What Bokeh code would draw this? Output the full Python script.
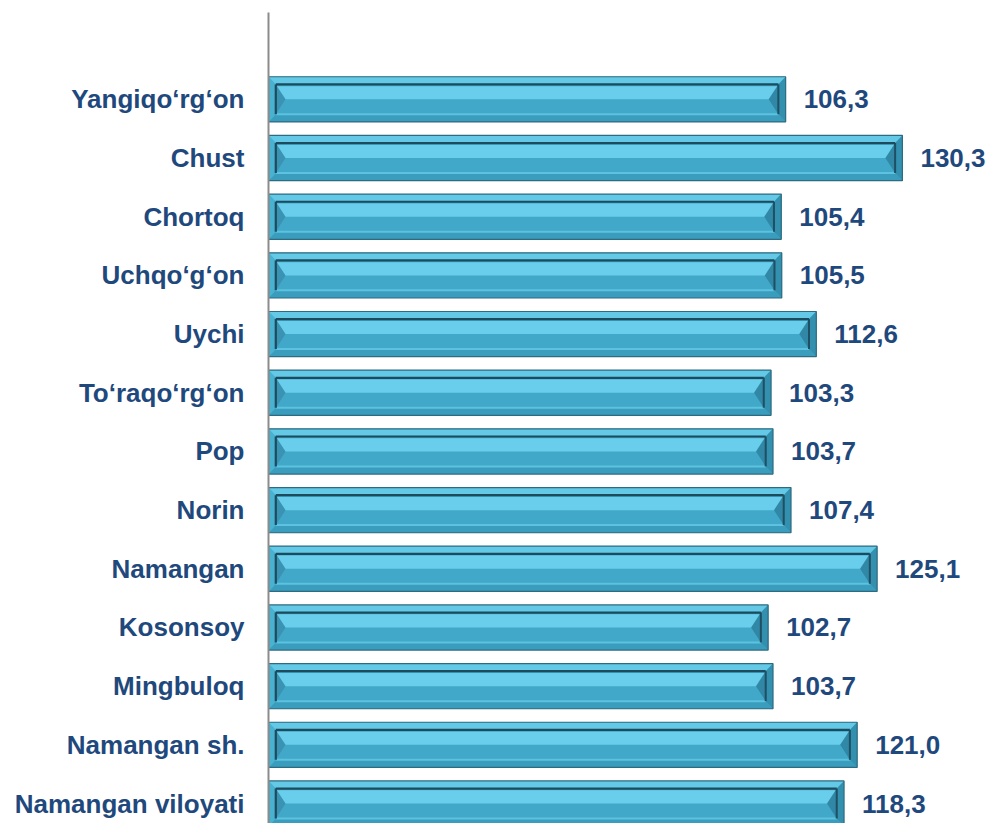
from bokeh.plotting import figure
from bokeh.models import ColumnDataSource, FixedTicker, Range1d
from bokeh.core.properties import value
from bokeh.embed import file_html
from bokeh.resources import INLINE

categories = ["Namangan viloyati", "Namangan sh.", "Mingbuloq", "Kosonsoy", "Namangan",
              "Norin", "Pop", "To\u2018raqo\u2018rg\u2018on", "Uychi", "Uchqo\u2018g\u2018on",
              "Chortoq", "Chust", "Yangiqo\u2018rg\u2018on"]
values = [118.3, 121.0, 103.7, 102.7, 125.1, 107.4, 103.7, 103.3, 112.6, 105.5, 105.4, 130.3, 106.3]

ys = list(range(len(categories)))
labels = [f"{v:.1f}".replace(".", ",") for v in values]

H_OUT = 0.385
H_IN = 0.255
D = 1.5

src = ColumnDataSource(dict(
    y=ys, v=values, lab=labels,
    ot=[y + H_OUT for y in ys], ob=[y - H_OUT for y in ys],
    it=[y + H_IN for y in ys], ib=[y - H_IN for y in ys],
    il=[D] * len(ys), ir=[v - D for v in values],
    ht=[y + H_IN - 0.03 for y in ys], hb=[y + 0.0 for y in ys],
))

p = figure(width=989, height=823, output_backend="svg", toolbar_location=None,
           x_range=Range1d(0, 148.2), y_range=Range1d(-0.34, 13.48),
           min_border_left=268, min_border_right=0, min_border_top=12, min_border_bottom=0)
p.outline_line_color = None
p.xgrid.visible = False
p.ygrid.visible = False
p.xaxis.visible = False

# outer frame
p.quad(left=0, right="v", top="ot", bottom="ob", source=src,
       fill_color="#47B3D3", line_color=None)

top_xs, top_ys, bot_xs, bot_ys, lf_xs, lf_ys, rt_xs, rt_ys = [], [], [], [], [], [], [], []
tri_xs, tri_ys, rtri_xs, rtri_ys = [], [], [], []
for y, v in zip(ys, values):
    top_xs.append([0, v, v - D, D]); top_ys.append([y + H_OUT, y + H_OUT, y + H_IN, y + H_IN])
    bot_xs.append([0, v, v - D, D]); bot_ys.append([y - H_OUT, y - H_OUT, y - H_IN, y - H_IN])
    lf_xs.append([0, D, D, 0]); lf_ys.append([y + H_OUT, y + H_IN, y - H_IN, y - H_OUT])
    rt_xs.append([v, v - D, v - D, v]); rt_ys.append([y + H_OUT, y + H_IN, y - H_IN, y - H_OUT])
    tri_xs.append([D, D + 2.0, D]); tri_ys.append([y + H_IN, y, y - H_IN])
    rtri_xs.append([v - D, v - D - 2.0, v - D]); rtri_ys.append([y + H_IN, y, y - H_IN])

p.patches(top_xs, top_ys, fill_color="#63C9E6", line_color=None)
p.patches(bot_xs, bot_ys, fill_color="#3A9DBD", line_color=None)
p.patches(lf_xs, lf_ys, fill_color="#4AB2D1", line_color=None)
p.patches(rt_xs, rt_ys, fill_color="#3390AE", line_color=None)
p.quad(left=0, right="v", top="ot", bottom="ob", source=src,
       fill_color=None, line_color="#2D6B80", line_width=1.2)

# inner face
p.quad(left="il", right="ir", top="it", bottom="ib", source=src,
       fill_color="#41A8C9", line_color=None)
p.quad(left="il", right="ir", top="ht", bottom="hb", source=src,
       fill_color="#68CEEC", line_color=None)
p.patches(tri_xs, tri_ys, fill_color="#3A93B2", line_color=None)
p.patches(rtri_xs, rtri_ys, fill_color="#3088A6", line_color=None)
p.segment(x0="il", y0="ib", x1="ir", y1="ib", source=src, line_color="#5DC2DF", line_width=2)
p.segment(x0="ir", y0="ib", x1="ir", y1="it", source=src, line_color="#1F4F62", line_width=2)
p.segment(x0="il", y0="it", x1="ir", y1="it", source=src, line_color="#1D4A5C", line_width=2.2)
p.segment(x0="il", y0="ib", x1="il", y1="it", source=src, line_color="#1D4A5C", line_width=2.2)

# value labels
p.text(x="v", y="y", text="lab", source=src, x_offset=18,
       text_baseline="middle", text_align="left",
       text_font=value("Liberation Sans"), text_font_style="bold",
       text_font_size="26px", text_color="#1F497D")

ax = p.yaxis[0]
ax.ticker = FixedTicker(ticks=ys)
ax.major_label_overrides = {y: c for y, c in zip(ys, categories)}
ax.major_tick_line_color = None
ax.minor_tick_line_color = None
ax.axis_line_color = "#8C8C8C"
ax.axis_line_width = 2
ax.major_label_standoff = 18
ax.major_label_text_font = "Liberation Sans"
ax.major_label_text_font_style = "bold"
ax.major_label_text_font_size = "26px"
ax.major_label_text_color = "#1F497D"

open("out.html", "w").write(file_html(p, INLINE))
